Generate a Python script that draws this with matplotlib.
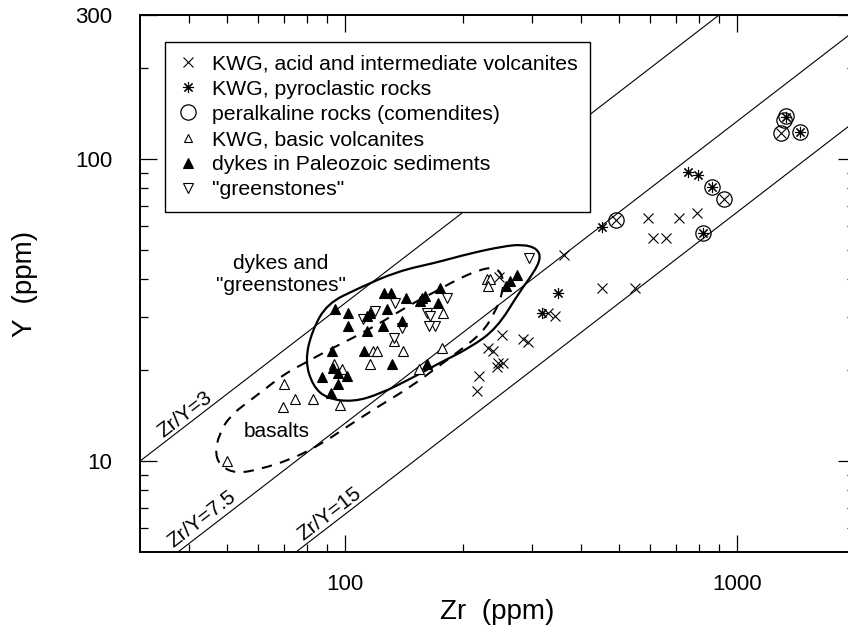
import numpy as np
import matplotlib
matplotlib.use("Agg")
import matplotlib.pyplot as plt
from matplotlib.path import Path
from matplotlib.patches import PathPatch
from matplotlib.lines import Line2D
from matplotlib.ticker import FixedLocator, NullFormatter

plt.rcParams['font.family'] = ['Liberation Sans', 'DejaVu Sans']

# KWG, acid and intermediate volcanites
acid_zr = [593, 711, 791, 611, 659, 453, 550, 362, 330, 343, 247, 252, 232, 238,
           284, 293, 245, 244, 253, 220, 217, 491, 927, 1295]
acid_y = [63.7, 63.7, 66.2, 54.7, 54.7, 37.3, 37.3, 48.3, 31.0, 30.3, 40.6, 26.2, 23.7, 23.2,
          25.4, 24.7, 21.2, 20.5, 21.2, 19.1, 17.1, 62.7, 73.6, 122]

# KWG, pyroclastic rocks
pyro_zr = [750, 795, 453, 349, 318, 863, 819, 1334, 1448]
pyro_y = [90.5, 88.5, 59.4, 36.1, 31.0, 80.7, 56.8, 138, 123]

# peralkaline rocks (comendites)
peralk_zr = [491, 863, 927, 819, 1334, 1315, 1295, 1448]
peralk_y = [62.7, 80.7, 73.6, 56.8, 139, 135, 122, 123]

# KWG, basic volcanites
basic_zr = [230, 234, 232, 178, 118, 121, 141, 116, 177, 154, 97, 94, 98.5,
            69.9, 69.5, 74.6, 82.8, 50, 133]
basic_y = [40.2, 40.2, 38.1, 31.0, 23.2, 23.2, 23.2, 21.0, 23.7, 20.2, 15.3, 21.0, 20.2,
           18.0, 15.1, 16.1, 16.1, 10.0, 25.0]

# dykes in Paleozoic sediments
dykes_zr = [275, 264, 257, 175, 173, 157, 126, 131, 143, 155, 160, 128, 102, 116,
            102, 114, 114, 125, 140, 112, 132, 162, 93, 96, 101, 96, 92, 94.3, 92.7, 87.3]
dykes_y = [41.2, 39.6, 38.1, 37.4, 33.3, 34.8, 36.1, 36.1, 34.8, 34.0, 35.2, 32.0, 31.0, 31.0,
           28.1, 30.3, 27.0, 28.1, 29.2, 23.2, 21.0, 21.0, 20.4, 19.6, 19.1, 18.0, 16.8, 32.0, 23.2, 19.0]

# "greenstones"
green_zr = [294, 182, 162, 134, 119, 111, 165, 170, 164, 140, 133]
green_y = [47.2, 34.6, 31.0, 33.5, 31.5, 29.6, 30.3, 28.1, 28.1, 27.5, 25.6]

# field outlines
dyke_field_zr = [79.1, 82.4, 90.0, 108, 136, 172, 208, 253, 284, 309, 316, 302, 279,
                 244, 208, 175, 149, 123, 105, 90, 82.8]
dyke_field_y = [21.5, 27.0, 33.2, 37.3, 42.5, 45.5, 48.7, 51.4, 52.2, 50.6, 46.9, 41.8, 36.4,
                27.5, 23.7, 21.2, 18.9, 16.7, 15.7, 16.1, 17.7]
basalt_field_zr = [46.6, 47.7, 50.9, 56.2, 62.5, 70.3, 80.0, 90, 105, 125, 147, 168, 193,
                   221, 241, 253, 253, 241, 224, 196, 175, 147, 123, 103, 86.3, 72.4, 60.7, 53.0, 48.5]
basalt_field_y = [10.5, 12.3, 14.1, 15.6, 17.3, 19.5, 21.3, 23.2, 25.6, 29.0, 33.0, 36.1, 39.9,
                  43.1, 43.8, 41.2, 36.1, 31.0, 26.6, 23.2, 20.8, 17.6, 15.3, 13.2, 11.3, 10.1, 9.4, 9.1, 9.55]

ratios = [3, 7.5, 15]
ratio_labels = ["Zr/Y=3", "Zr/Y=7.5", "Zr/Y=15"]
ratio_label_pos = [(39, 14.3), (43.2, 6.41), (91.6, 6.71)]

xlim = (30, 2000)
ylim = (5, 300)


def closed_smooth_path(xs, ys):
    # quadratic b-spline through geometric midpoints (log axes)
    lx, ly = np.log10(xs), np.log10(ys)
    n = len(lx)
    verts = []
    codes = []
    mx = (lx[-1] + lx[0]) / 2
    my = (ly[-1] + ly[0]) / 2
    verts.append((mx, my))
    codes.append(Path.MOVETO)
    for i in range(n):
        j = (i + 1) % n
        verts.append((lx[i], ly[i]))
        verts.append(((lx[i] + lx[j]) / 2, (ly[i] + ly[j]) / 2))
        codes += [Path.CURVE3, Path.CURVE3]
    verts = 10 ** np.array(verts)
    return Path(verts, codes)


fig = plt.figure(figsize=(8.48, 6.36), dpi=100)
ax = fig.add_axes([0.1651, 0.1321, 0.8432, 0.8443])
ax.set_xscale('log')
ax.set_yscale('log')
ax.set_xlim(*xlim)
ax.set_ylim(*ylim)

for r in ratios:
    ax.plot(xlim, [xlim[0] / r, xlim[1] / r], color='black', lw=0.8, zorder=1)

ax.add_patch(PathPatch(closed_smooth_path(dyke_field_zr, dyke_field_y), fill=False,
                       edgecolor='black', lw=1.6, transform=ax.transData, zorder=2))
ax.add_patch(PathPatch(closed_smooth_path(basalt_field_zr, basalt_field_y), fill=False,
                       edgecolor='black', lw=1.5, linestyle=(0, (5, 4)),
                       transform=ax.transData, zorder=2))

ax.plot(acid_zr, acid_y, ls='none', marker='x', ms=7.5, mew=0.8, color='black', zorder=3)
ax.plot(pyro_zr, pyro_y, ls='none', marker=(8, 2, 0), ms=8, mew=0.8, color='black', zorder=3)
ax.plot(peralk_zr, peralk_y, ls='none', marker='o', ms=11, mew=0.9, mfc='none', mec='black', zorder=3)
ax.plot(basic_zr, basic_y, ls='none', marker='^', ms=6.5, mew=0.8, mfc='white', mec='black', zorder=3)
ax.plot(green_zr, green_y, ls='none', marker='v', ms=7, mew=0.8, mfc='white', mec='black', zorder=3)
ax.plot(dykes_zr, dykes_y, ls='none', marker='^', ms=7, mew=0.8, mfc='black', mec='black', zorder=4)

# line labels
p1 = ax.transData.transform((100, 100 / 3))
p2 = ax.transData.transform((1000, 1000 / 3))
angle = np.degrees(np.arctan2(p2[1] - p1[1], p2[0] - p1[0]))
for lbl, (px, py) in zip(ratio_labels, ratio_label_pos):
    ax.text(px, py, lbl, rotation=angle, rotation_mode='anchor', ha='center', va='center',
            fontsize=15)

ax.text(68.7, 41.5, 'dykes and\n"greenstones"', ha='center', va='center', fontsize=15,
        linespacing=1.25)
ax.text(67.1, 12.5, 'basalts', ha='center', va='center', fontsize=15)

# axes / ticks
ax.xaxis.set_major_locator(FixedLocator([100, 1000]))
ax.set_xticklabels(['100', '1000'])
ax.xaxis.set_minor_locator(FixedLocator([40, 50, 60, 70, 80, 90, 200, 300, 400, 500, 600, 700, 800, 900]))
ax.xaxis.set_minor_formatter(NullFormatter())
ax.yaxis.set_major_locator(FixedLocator([10, 100, 300]))
ax.set_yticklabels(['10', '100', '300'])
ax.yaxis.set_minor_locator(FixedLocator([6, 7, 8, 9, 20, 30, 40, 50, 60, 70, 80, 90, 200]))
ax.yaxis.set_minor_formatter(NullFormatter())
ax.tick_params(which='both', direction='in', top=True, right=True, width=0.9)
ax.tick_params(which='major', length=12, labelsize=16)
ax.tick_params(axis='y', which='major', pad=20)
ax.tick_params(axis='x', which='major', pad=16)
ax.tick_params(which='minor', length=6)
for s in ax.spines.values():
    s.set_linewidth(1.4)

ax.set_xlabel('Zr  (ppm)', fontsize=20)
ax.set_ylabel('Y  (ppm)', fontsize=20)
ax.xaxis.set_label_coords(0.5, -0.087)
ax.yaxis.set_label_coords(-0.143, 0.5)

handles = [
    Line2D([], [], ls='none', marker='x', ms=7.5, mew=0.8, color='black'),
    Line2D([], [], ls='none', marker=(8, 2, 0), ms=8, mew=0.8, color='black'),
    Line2D([], [], ls='none', marker='o', ms=11, mew=0.9, mfc='none', mec='black'),
    Line2D([], [], ls='none', marker='^', ms=6, mew=0.8, mfc='white', mec='black'),
    Line2D([], [], ls='none', marker='^', ms=6.5, mew=0.8, mfc='black', mec='black'),
    Line2D([], [], ls='none', marker='v', ms=6.5, mew=0.8, mfc='white', mec='black'),
]
labels = ["KWG, acid and intermediate volcanites", "KWG, pyroclastic rocks",
          "peralkaline rocks (comendites)", "KWG, basic volcanites",
          "dykes in Paleozoic sediments", '"greenstones"']
leg = ax.legend(handles, labels, loc='upper left', bbox_to_anchor=(0.035, 0.95),
                fontsize=15.3, frameon=True, fancybox=False, edgecolor='black',
                framealpha=1, borderpad=0.6, labelspacing=0.29, handlelength=1.0,
                handletextpad=0.6, borderaxespad=0)
leg.get_frame().set_linewidth(1.0)

fig.savefig('out.png', dpi=100)
